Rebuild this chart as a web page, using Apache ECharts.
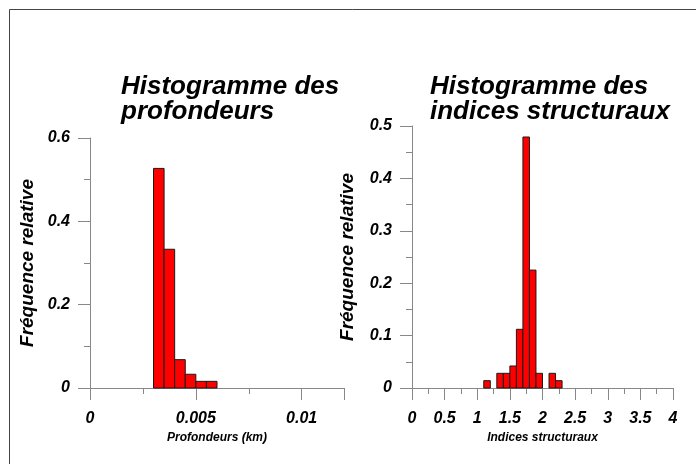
<!DOCTYPE html>
<html>
<head>
<meta charset="utf-8">
<script src="https://cdn.jsdelivr.net/npm/echarts@6/dist/echarts.min.js"></script>
<style>
  html, body { margin: 0; padding: 0; background: #fff; }
  #chart { width: 696px; height: 464px; }
</style>
</head>
<body>
<div id="chart"></div>
<script>
// Depth histogram: bin starts (km), bin width and relative frequencies
const depthBinStart = [0.003, 0.0035, 0.004, 0.0045, 0.005, 0.0055];
const depthBinWidth = 0.0005;
const depthFreq = [0.527, 0.333, 0.068, 0.033, 0.016, 0.016];

// Structural index histogram
const indexBinStart = [1.1, 1.3, 1.4, 1.5, 1.6, 1.7, 1.8, 1.9, 2.1, 2.2];
const indexBinWidth = 0.1;
const indexFreq = [0.014, 0.028, 0.028, 0.042, 0.112, 0.479, 0.225, 0.028, 0.028, 0.014];

const FONT = '"Liberation Sans", Arial, sans-serif';
const AXIS_GRAY = '#888888';

function bins(starts, width, freqs) {
  return starts.map((s, i) => [s, s + width, freqs[i]]);
}

function renderBin(params, api) {
  const p0 = api.coord([api.value(0), api.value(2)]);
  const p1 = api.coord([api.value(1), 0]);
  return {
    type: 'rect',
    shape: { x: p0[0], y: p0[1], width: p1[0] - p0[0], height: p1[1] - p0[1] },
    style: { fill: '#ff0000', stroke: '#1a1a1a', lineWidth: 1 }
  };
}

const tickLabel = { fontFamily: FONT, fontSize: 16, fontWeight: 'bold', fontStyle: 'italic', color: '#000' };
const nameText = { fontFamily: FONT, fontSize: 19, fontWeight: 'bold', fontStyle: 'italic', color: '#000' };
const smallName = { fontFamily: FONT, fontSize: 12, fontWeight: 'bold', fontStyle: 'italic', color: '#000' };

function xAxisCfg(gridIndex, max, interval, name, showMax) {
  return {
    type: 'value', gridIndex, min: 0, max, interval,
    name, nameLocation: 'middle', nameGap: 39, nameTextStyle: smallName,
    axisLine: { show: true, lineStyle: { color: AXIS_GRAY, width: 1 } },
    axisTick: { show: true, length: 12, lineStyle: { color: AXIS_GRAY } },
    minorTick: { show: true, splitNumber: 2, length: 6, lineStyle: { color: AXIS_GRAY } },
    axisLabel: Object.assign({ margin: 23, showMaxLabel: showMax }, tickLabel),
    splitLine: { show: false }
  };
}

function yAxisCfg(gridIndex, max, interval, gap) {
  return {
    type: 'value', gridIndex, min: 0, max, interval,
    name: 'Fréquence relative', nameLocation: 'middle', nameGap: gap, nameTextStyle: nameText,
    axisLine: { show: true, lineStyle: { color: AXIS_GRAY, width: 1 } },
    axisTick: { show: true, length: 12, lineStyle: { color: AXIS_GRAY } },
    minorTick: { show: true, splitNumber: 2, length: 6, lineStyle: { color: AXIS_GRAY } },
    axisLabel: Object.assign({ margin: 20 }, tickLabel),
    splitLine: { show: false }
  };
}

const titleStyle = { fontFamily: FONT, fontSize: 26, fontWeight: 'bold', fontStyle: 'italic', color: '#000', lineHeight: 25 };

const chart = echarts.init(document.getElementById('chart'), null, { renderer: 'canvas' });
chart.setOption({
  animation: false,
  backgroundColor: '#fff',
  title: [
    { text: 'Histogramme des\nprofondeurs', left: 121, top: 74, padding: 0, textStyle: titleStyle },
    { text: 'Histogramme des\nindices structuraux', left: 430, top: 74, padding: 0, textStyle: titleStyle }
  ],
  graphic: [{
    type: 'polyline',
    shape: { points: [[9.5, 464], [9.5, 9.5], [696, 9.5]] },
    style: { stroke: '#444', lineWidth: 1, fill: null }
  }],
  grid: [
    { left: 90, top: 138, width: 254, height: 250 },
    { left: 412, top: 126, width: 261, height: 262 }
  ],
  xAxis: [
    xAxisCfg(0, 0.012, 0.005, 'Profondeurs (km)', false),
    xAxisCfg(1, 4, 0.5, 'Indices structuraux', true)
  ],
  yAxis: [
    yAxisCfg(0, 0.6, 0.2, 53),
    yAxisCfg(1, 0.5, 0.1, 55)
  ],
  series: [
    {
      type: 'custom', xAxisIndex: 0, yAxisIndex: 0,
      renderItem: renderBin,
      encode: { x: [0, 1], y: 2 },
      data: bins(depthBinStart, depthBinWidth, depthFreq)
    },
    {
      type: 'custom', xAxisIndex: 1, yAxisIndex: 1,
      renderItem: renderBin,
      encode: { x: [0, 1], y: 2 },
      data: bins(indexBinStart, indexBinWidth, indexFreq)
    }
  ]
});
</script>
</body>
</html>
